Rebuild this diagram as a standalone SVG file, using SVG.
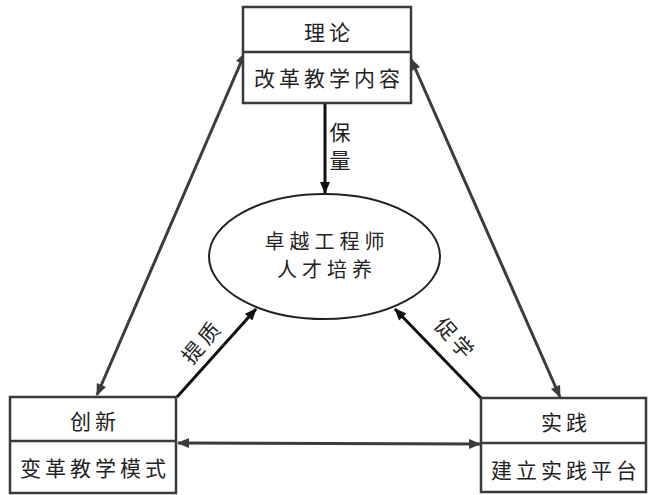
<svg xmlns="http://www.w3.org/2000/svg" width="648" height="495" viewBox="0 0 648 495">
<style>
.box{fill:#fff;stroke:#3a3a3a;stroke-width:2.5}
.div{stroke:#3a3a3a;stroke-width:2.5}
.t{font-family:"Noto Sans CJK SC","Noto Sans CJK JP",sans-serif;font-size:21px;fill:#222;text-anchor:middle;dominant-baseline:central;letter-spacing:4px}
.c{font-size:20px;letter-spacing:5px}
.bi{stroke:#3c3c3c;stroke-width:3;fill:none;marker-start:url(#ah);marker-end:url(#ah)}
.one{stroke:#111;stroke-width:3;fill:none;marker-end:url(#ahb)}
</style>
<defs>
<marker id="ah" viewBox="0 0 12 10" refX="11" refY="5" markerWidth="13" markerHeight="10" markerUnits="userSpaceOnUse" orient="auto-start-reverse"><path d="M0,0 L12,5 L0,10 z" fill="#3c3c3c"/></marker>
<marker id="ahb" viewBox="0 0 12 10" refX="11" refY="5" markerWidth="13" markerHeight="10" markerUnits="userSpaceOnUse" orient="auto"><path d="M0,0 L12,5 L0,10 z" fill="#111"/></marker>
</defs>
<g id="connectors">
<line class="bi" x1="245" y1="53" x2="97" y2="395"/>
<line class="bi" x1="411" y1="59" x2="560" y2="397"/>
<line class="bi" x1="178" y1="443" x2="480" y2="444"/>
<line class="one" x1="325" y1="104" x2="325" y2="193"/>
<line class="one" x1="177" y1="397" x2="256" y2="309"/>
<line class="one" x1="481" y1="398" x2="395" y2="309"/>
</g>
<g id="theory">
<rect class="box" x="243" y="7" width="168" height="96"/>
<line class="div" x1="243" y1="52" x2="411" y2="52"/>
<text class="t" x="329" y="31">理论</text>
<text class="t" x="329" y="77">改革教学内容</text>
</g>
<g id="innovation">
<rect class="box" x="10" y="397" width="166" height="96"/>
<line class="div" x1="10" y1="441" x2="176" y2="441"/>
<text class="t" x="95" y="420">创新</text>
<text class="t" x="95" y="467">变革教学模式</text>
</g>
<g id="practice">
<rect class="box" x="481" y="398" width="165" height="94"/>
<line class="div" x1="481" y1="443" x2="646" y2="443"/>
<text class="t" x="566" y="421">实践</text>
<text class="t" x="566" y="469">建立实践平台</text>
</g>
<g id="center">
<ellipse cx="324.5" cy="256.5" rx="115.5" ry="62.5" fill="#fff" stroke="#222" stroke-width="2"/>
<text class="t c" x="327" y="240">卓越工程师</text>
<text class="t c" x="327" y="268">人才培养</text>
</g>
<g id="labels">
<text class="t" x="342" y="131">保</text>
<text class="t" x="342" y="159">量</text>
<text class="t" transform="translate(200,342) rotate(-50)" x="2" y="0">提质</text>
<text class="t" transform="translate(455,337) rotate(48)" x="2" y="0">促学</text>
</g>
</svg>
